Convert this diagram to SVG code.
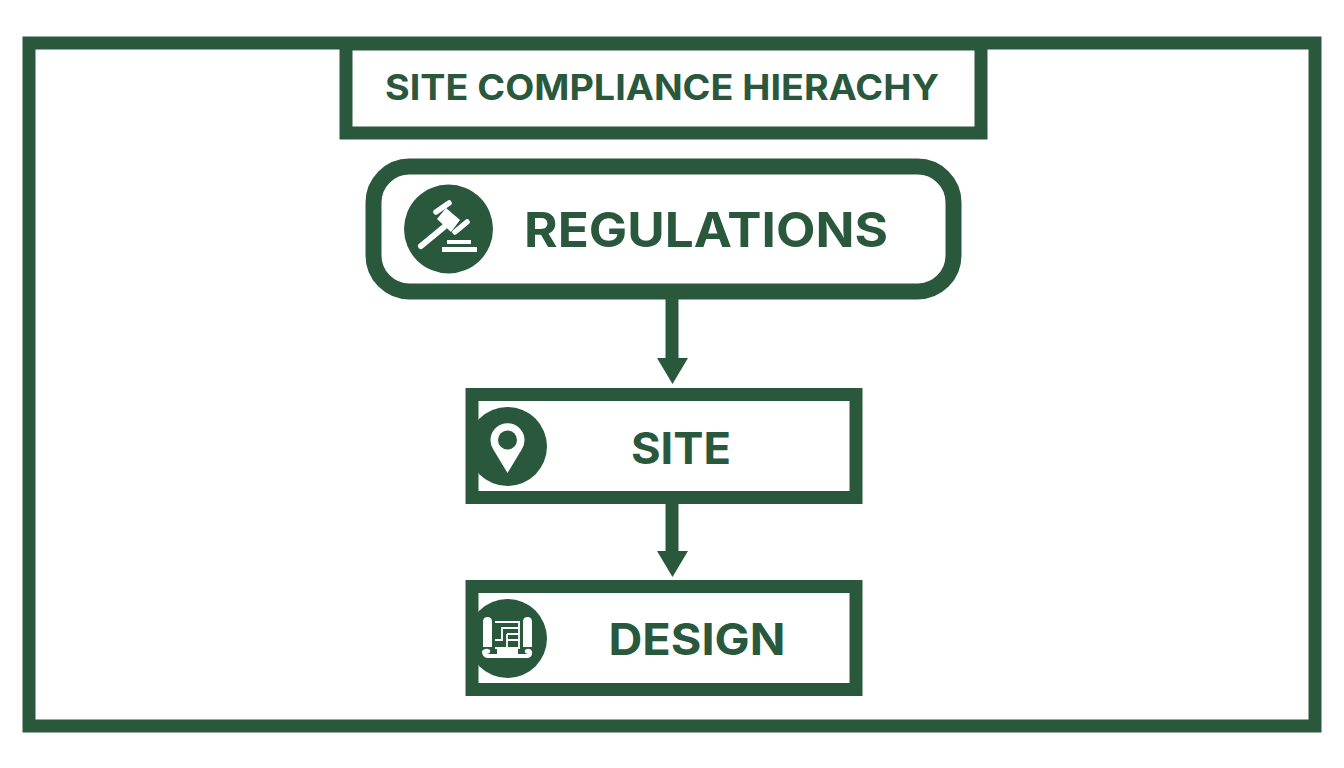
<svg xmlns="http://www.w3.org/2000/svg" width="1344" height="768" viewBox="0 0 1344 768">
<style>
.box{fill:#fff;stroke:#2a583c;stroke-width:13}
.ic{fill:#2a583c}
.w{fill:#fff}
.ws{fill:none;stroke:#fff;stroke-linecap:round}
.t{font-family:"Inter","Liberation Sans",sans-serif;font-weight:700;fill:#2a583c;text-anchor:middle}
.c{stroke:#2a583c;stroke-width:13;fill:none}
.h{fill:#2a583c}
</style>
<rect width="1344" height="768" fill="#fff"/>
<rect id="frame" x="29" y="43" width="1286" height="683" fill="#fff" stroke="#2a583c" stroke-width="13"/>
<g id="title"><rect class="box" x="346" y="44" width="635" height="89"/><text class="t" x="662" y="100" font-size="35" textLength="554" lengthAdjust="spacingAndGlyphs">SITE COMPLIANCE HIERACHY</text></g>
<g id="connectors">
<path class="c" d="M672 298V360"/><path class="h" d="M657 358H688L672.500 384Z"/>
<path class="c" d="M672 503V553"/><path class="h" d="M657 551H688L672.500 577Z"/>
</g>
<g id="regulations"><rect x="373.500" y="166.500" width="580" height="125" rx="36" fill="#fff" stroke="#2a583c" stroke-width="16"/>
<circle class="ic" cx="448.500" cy="229" r="44.500"/>
<path class="w" d="M446 208L460 220L451 232L437 219Z"/>
<path class="ws" stroke-width="5.500" d="M436 212L449 203M455 232L467 222"/>
<path class="ws" stroke-width="6" d="M421 246L444 227"/>
<path class="w" d="M447 240H471V244H447ZM442 247H477V252H442Z"/>
<text class="t" x="706" y="247" font-size="48" textLength="364" lengthAdjust="spacingAndGlyphs">REGULATIONS</text></g>
<g id="site"><rect class="box" x="472" y="394.500" width="384" height="103"/>
<circle class="ic" cx="507.500" cy="446.500" r="39.500"/>
<path class="w" d="M507.500 473L493 449A17 17 0 1 1 522 449Z"/><circle class="ic" cx="507.500" cy="440" r="9.500"/>
<text class="t" x="681" y="464" font-size="44" textLength="100" lengthAdjust="spacingAndGlyphs">SITE</text></g>
<g id="design"><rect class="box" x="472" y="586.500" width="384" height="103"/>
<circle class="ic" cx="507.500" cy="638.500" r="39.500"/>
<path class="w" d="M483 622Q483 617 487.500 617Q492 617 492 622V647H483Z"/>
<path class="w" d="M523 622Q523 617 527.500 617Q532 617 532 622V647H523Z"/>
<path class="w" d="M482 651Q486 647 490 650Q491 654 486 654H497V649H518V654H529Q524 654 525 650Q529 647 532 651Q533 657 528 658H487Q482 657 482 651Z"/>
<path fill="none" stroke="#fff" stroke-width="1.800" d="M495 622H519V648H495M495 640H502V628H519M507 634H519M507 634V648M507 640H519"/>
<text class="t" x="697" y="655" font-size="44" textLength="177" lengthAdjust="spacingAndGlyphs">DESIGN</text></g>
</svg>
